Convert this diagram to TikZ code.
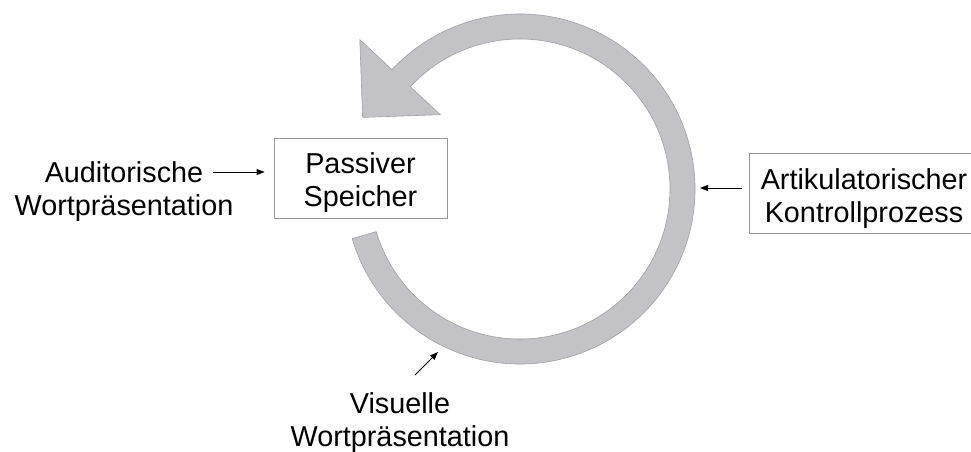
\documentclass[tikz,border=0pt]{standalone}
\usepackage{fontspec}
\setmainfont{Liberation Sans}
\usetikzlibrary{arrows.meta,calc}

\definecolor{ringfill}{RGB}{195,194,199}
\definecolor{ringedge}{RGB}{160,159,164}
\definecolor{boxedge}{RGB}{150,150,150}

\tikzset{
  lbl/.style={font=\fontsize{28.8}{33}\selectfont, align=center, inner sep=0pt},
  boxed/.style={draw=boxedge, line width=0.8pt, inner sep=0pt},
  ptr/.style={-{Triangle[length=8pt,width=6pt]}, line width=0.9pt, black},
  ring/.style={fill=ringfill, draw=ringedge, line width=0.6pt},
}

\begin{document}
\begin{tikzpicture}[x=1pt,y=1pt]
\useasboundingbox (0,0) rectangle (971,451);

% rehearsal loop: thick circular arrow, counter-clockwise
\coordinate (c) at (520,262);
\path[ring]
  ([shift={(c)}]196.5:175) arc[start angle=196.5, end angle=497, radius=175]
  -- ([shift={(c)}]137:219)
  -- ($(c)+(-157.4,71.6)$)
  -- ([shift={(c)}]137:109)
  -- ([shift={(c)}]137:150)
  arc[start angle=497, end angle=196.5, radius=150]
  -- cycle;
\coordinate (ringE) at (695,263);

% boxes (labels are anchored at the baseline of their last line)
\node[boxed, minimum width=173pt, minimum height=80pt] (speicher) at (360.5,273) {};
\node[lbl, anchor=base] (speichertxt) at (360.5,245) {Passiver\\Speicher};

\node[boxed, minimum width=240pt, minimum height=80pt] (artik) at (869,258) {};
\node[lbl, anchor=base] (artiktxt) at (864,228.5) {Artikulatorischer\\Kontrollprozess};

% free labels
\node[lbl, anchor=base] (aud) at (124,236) {Auditorische\\Wortpräsentation};
\node[lbl, anchor=base] (vis) at (400,5) {Visuelle\\Wortpräsentation};

% pointers
\coordinate (audsrc) at (213,279);
\draw[ptr, shorten >=9pt] (audsrc) -- (speicher.west |- audsrc);

\draw[ptr, shorten <=7pt, shorten >=5pt] (artik.west |- ringE) -- (ringE);

\coordinate (vissrc) at (415,76);
\coordinate (vistip) at (438,99);
\draw[ptr] (vissrc) -- (vistip);
\end{tikzpicture}
\end{document}
